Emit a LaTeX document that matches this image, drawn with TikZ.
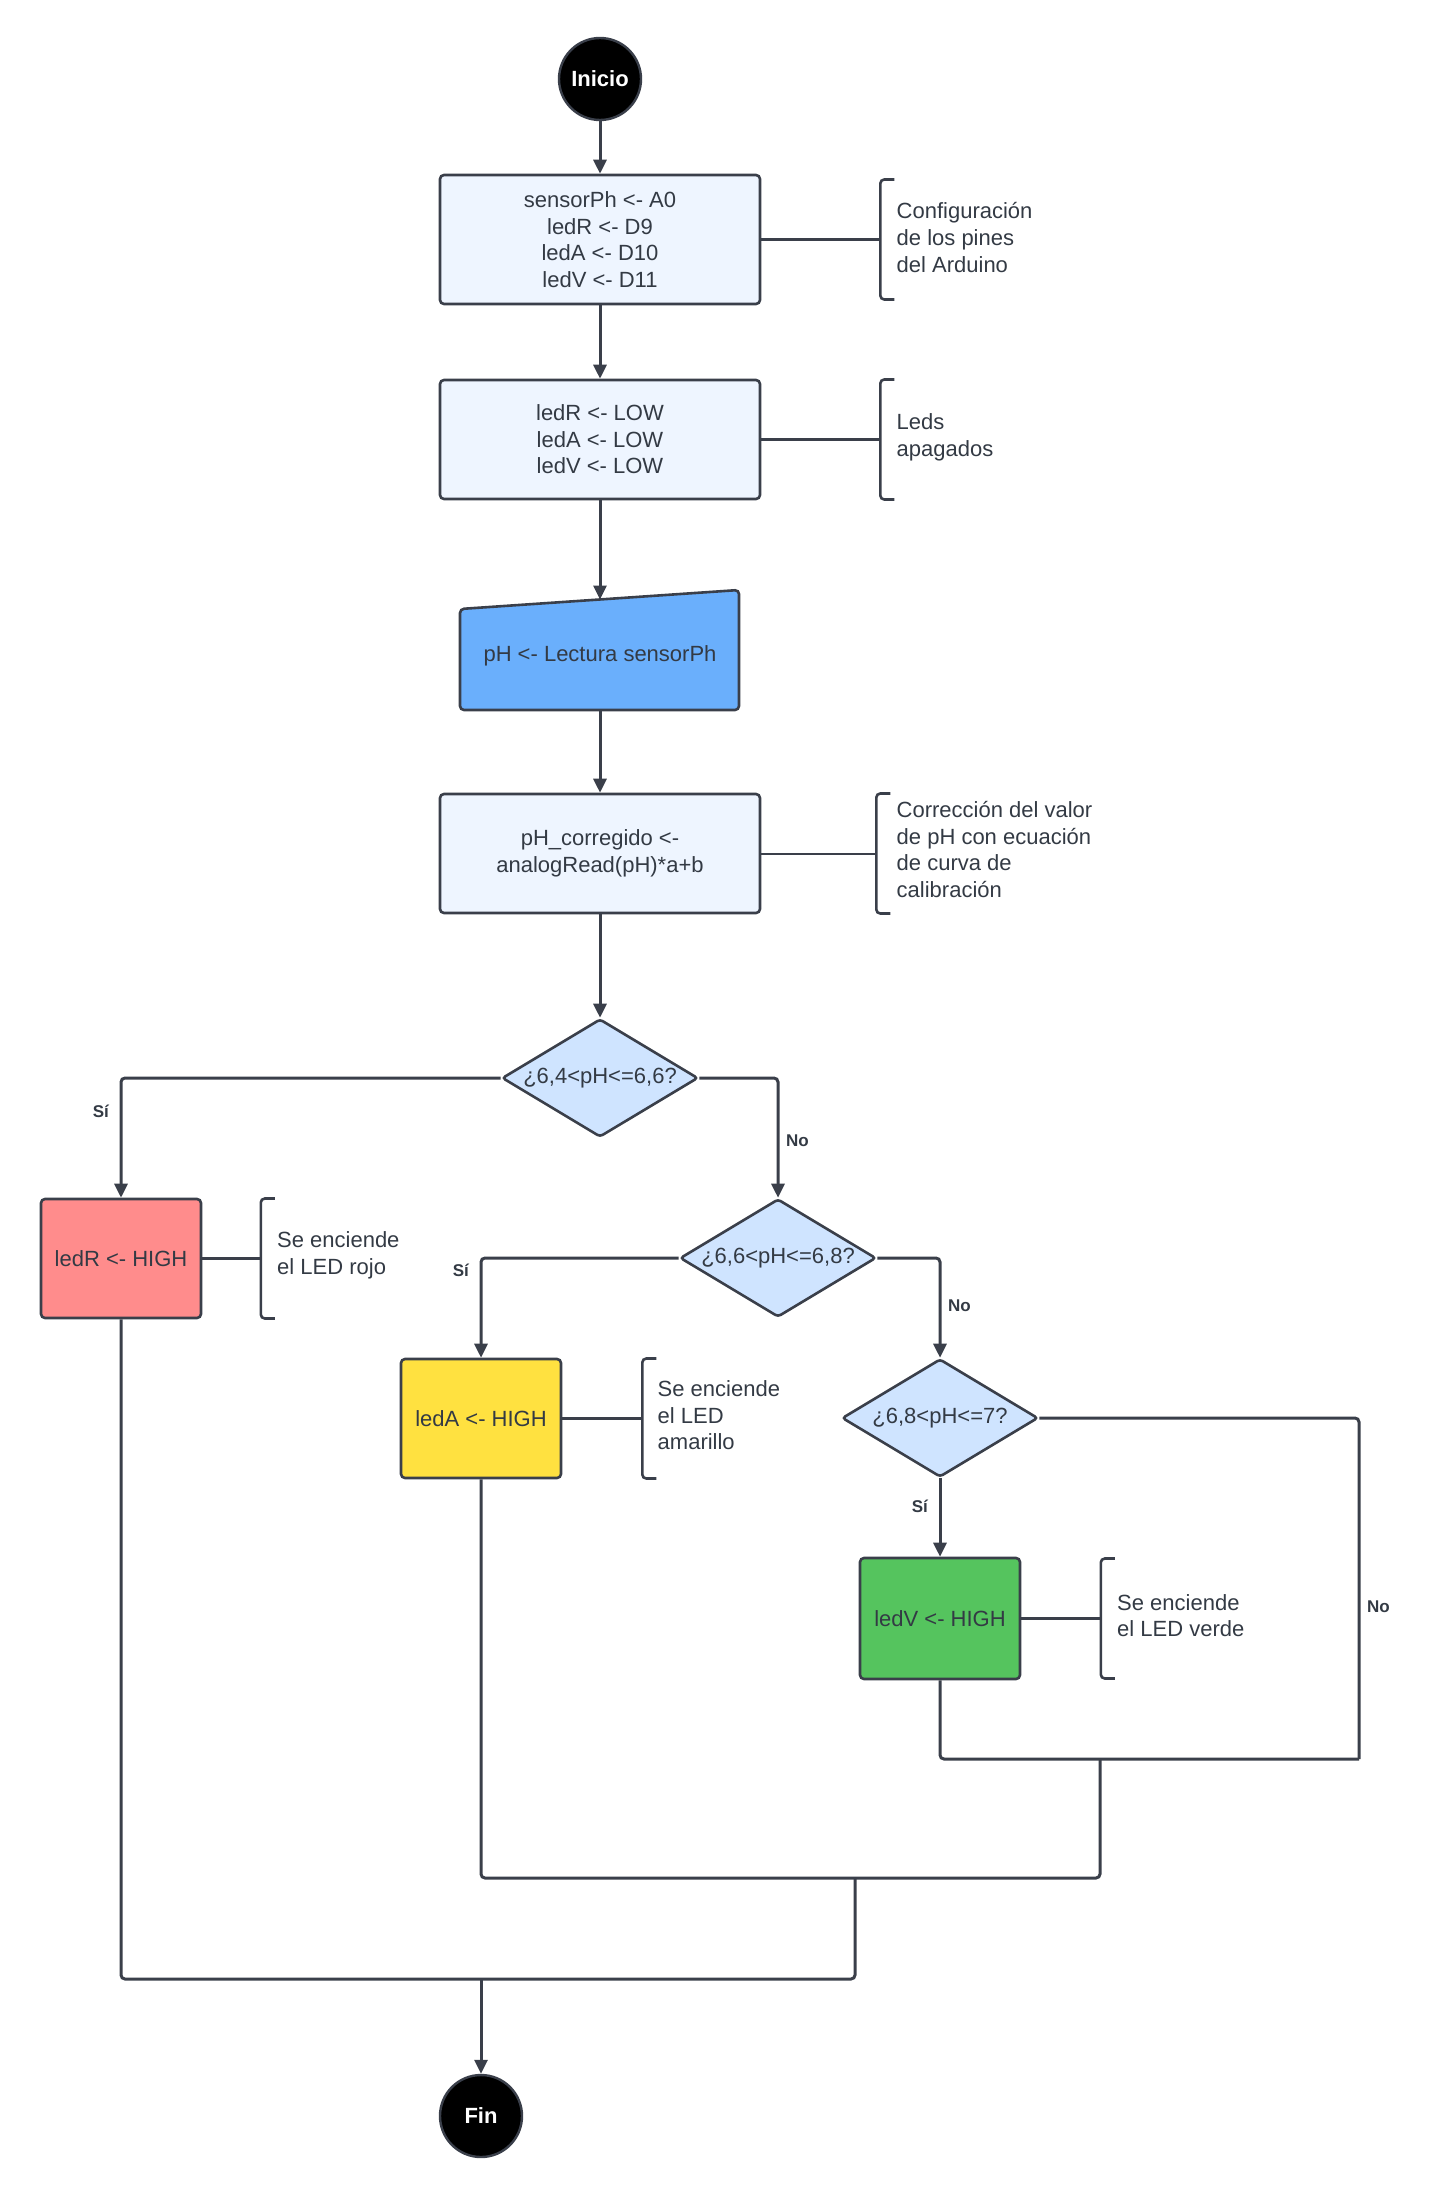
\documentclass[tikz,border=0pt]{standalone}
\usepackage{fontspec}
\setmainfont{Liberation Sans}
\usetikzlibrary{shapes.geometric, arrows.meta, positioning, calc}
\definecolor{grisOsc}{HTML}{3A3F4A}
\definecolor{tinta}{HTML}{333A44}
\definecolor{celeste}{HTML}{EEF5FF}
\definecolor{azulD}{HTML}{CFE4FF}
\definecolor{azulE}{HTML}{6AAFFC}
\definecolor{rojo}{HTML}{FF8C8C}
\definecolor{amarillo}{HTML}{FFE140}
\definecolor{verde}{HTML}{55C45E}

\begin{document}
\begin{tikzpicture}[x=0.5pt, y=-0.5pt,
  font=\fontsize{11}{13.3}\selectfont,
  caja/.style={draw=grisOsc, line width=1.3pt, rounded corners=2pt, fill=celeste,
    minimum width=160pt, minimum height=59.5pt, align=center, text=tinta},
  led/.style={caja, minimum width=80pt},
  rombo/.style={diamond, draw=grisOsc, line width=1.3pt, rounded corners=1.5pt, fill=azulD,
    aspect=1.66, minimum width=98pt, minimum height=59pt, inner sep=0pt, text=tinta},
  extremo/.style={circle, draw=grisOsc, line width=1.2pt, fill=black, text=white,
    minimum size=41pt, inner sep=0pt, font=\fontsize{11}{13}\selectfont\bfseries},
  flecha/.style={draw=grisOsc, line width=1.5pt, rounded corners=2pt,
    -{Triangle[length=7pt,width=6.5pt]}},
  linea/.style={draw=grisOsc, line width=1.5pt, rounded corners=2pt},
  corchete/.style={draw=grisOsc, line width=1.3pt, rounded corners=2pt},
  nota/.style={anchor=west, align=left, text=tinta, inner sep=0pt},
  etiq/.style={font=\fontsize{8.5}{10}\selectfont\bfseries, text=tinta}]

  \useasboundingbox (0,0) rectangle (1432,2199);

  % inicio y configuracion
  \node[extremo] (ini) at (600,79) {Inicio};
  \node[caja, minimum height=64.5pt] (conf) at (600,239.5)
    {sensorPh <- A0\\ledR <- D9\\ledA <- D10\\ledV <- D11};
  \node[caja] (apag) at (600,439.5) {ledR <- LOW\\ledA <- LOW\\ledV <- LOW};

  % lectura del sensor
  \coordinate (lecNO) at (460,609);
  \coordinate (lecNE) at (739,590);
  \coordinate (lecSE) at (739,710);
  \coordinate (lecSO) at (460,710);
  \coordinate (lecN) at (600,599.5);
  \coordinate (lecS) at (600,710);
  \draw[corchete, fill=azulE] (lecSO) -- (lecSE) -- (lecNE) -- (lecNO) -- cycle;
  \node[text=tinta] (lec) at (600,656) {pH <- Lectura sensorPh};
  \node[caja] (corr) at (600,853.5) {pH\_corregido <-\\analogRead(pH)*a+b};

  % decisiones
  \node[rombo] (d1) at (600,1078) {¿6,4<pH<=6,6?};
  \node[rombo] (d2) at (778,1258) {¿6,6<pH<=6,8?};
  \node[rombo] (d3) at (940,1418) {¿6,8<pH<=7?};

  % leds
  \node[led, fill=rojo] (ledR) at (121,1258.5) {ledR <- HIGH};
  \node[led, fill=amarillo] (ledA) at (481,1418.5) {ledA <- HIGH};
  \node[led, fill=verde, minimum height=60.5pt] (ledV) at (940,1618.5) {ledV <- HIGH};
  \node[extremo] (fin) at (481,2116) {Fin};

  % comentarios
  \coordinate (k1) at ($(conf.east)+(119,0)$);
  \coordinate (k2) at ($(apag.east)+(119,0)$);
  \coordinate (k3) at ($(corr.east)+(115,0)$);
  \coordinate (kR) at ($(ledR.east)+(58.5,0)$);
  \coordinate (kA) at ($(ledA.east)+(80,0)$);
  \coordinate (kV) at ($(ledV.east)+(79.5,0)$);
  \foreach \k in {k1,k2,k3,kR,kA,kV}
    \draw[corchete] ($(\k)+(14,-60)$) -| ($(\k)+(0,60)$) -- ++(14,0);
  \draw[linea] (conf) -- (k1);
  \draw[linea] (apag) -- (k2);
  \draw[linea, line width=1pt] (corr) -- (k3);
  \draw[linea] (ledR) -- (kR);
  \draw[linea] (ledA) -- (kA);
  \draw[linea] (ledV) -- (kV);
  \node[nota] (n1) at ($(k1)+(16,-2)$) {Configuración\\de los pines\\del Arduino};
  \node[nota] (n2) at ($(k2)+(16,-2)$) {Leds\\apagados};
  \node[nota] (n3) at ($(k3)+(20,-4)$) {Corrección del valor\\de pH con ecuación\\de curva de\\calibración};
  \node[nota] (nR) at ($(kR)+(16,-3)$) {Se enciende\\el LED rojo};
  \node[nota] (nA) at ($(kA)+(15,-3)$) {Se enciende\\el LED\\amarillo};
  \node[nota] (nV) at ($(kV)+(16,-3)$) {Se enciende\\el LED verde};

  % flujo principal
  \draw[flecha] (ini) -- (conf);
  \draw[flecha] (conf) -- (apag);
  \draw[flecha] (apag) -- (lecN);
  \draw[flecha] (lecS) -- (corr);
  \draw[flecha] (corr) -- (d1);
  \draw[flecha] (d1.west) -| node[etiq, pos=0.64, left, xshift=-2pt] {Sí} (ledR.north);
  \draw[flecha] (d1.east) -| node[etiq, pos=0.76, right] {No} (d2.north);
  \draw[flecha] (d2.west) -| node[etiq, pos=0.56, left, xshift=-2pt] {Sí} (ledA.north);
  \draw[flecha] (d2.east) -| node[etiq, pos=0.74, right] {No} (d3.north);
  \draw[flecha] (d3.south) -- node[etiq, pos=0.36, left, xshift=-2pt] {Sí} (ledV.north);

  % uniones hacia el fin
  \coordinate (jNo) at (1359,1759);
  \coordinate (m1) at (1100,1759);
  \coordinate (m2) at (1100,1878);
  \coordinate (m3) at (855,1878);
  \coordinate (m4) at (855,1979);
  \draw[linea] (d3.east) -| node[etiq, pos=0.776, right] {No} (jNo);
  \draw[linea] (ledV.south) |- (jNo);
  \draw[linea] (ledA.south) |- (m2) -- (m1);
  \draw[linea] (ledR.south) |- (m4) -- (m3);
  \draw[flecha] (fin.north |- m4) -- (fin);
\end{tikzpicture}
\end{document}
